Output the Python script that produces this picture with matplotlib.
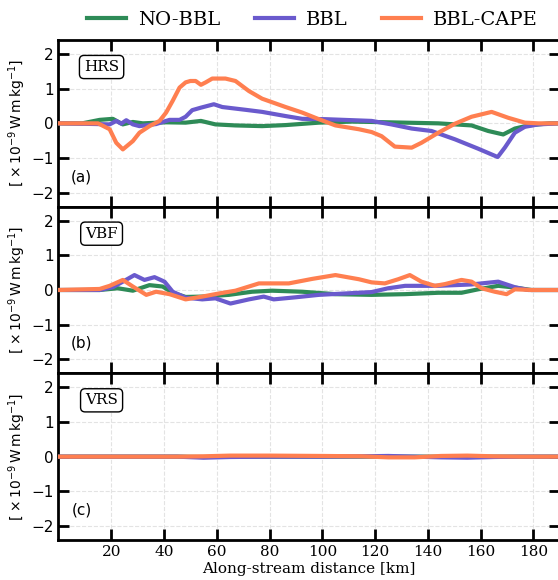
import matplotlib
matplotlib.use("Agg")
import matplotlib.pyplot as plt

# ---- data (km, 1e-9 W m kg^-1) ----
hrs_nobbl_km = [0, 9, 15.6, 20.6, 24.4, 28.2, 32, 40.8, 48.2, 54, 59.5, 67.1, 77.2, 86.1,
                98.7, 111.4, 118.7, 144, 156.6, 162.9, 168.6, 173, 178.1, 186, 190]
hrs_nobbl = [0, 0, 0.1, 0.13, -0.03, 0.04, 0, 0.03, 0.02, 0.07, -0.03, -0.06, -0.08, -0.05,
             0.02, 0.05, 0.04, 0, -0.06, -0.22, -0.32, -0.15, -0.06, 0, 0]

hrs_bbl_km = [0, 14.3, 19.4, 21.9, 23.8, 25.7, 28.2, 30.7, 37, 42.1, 45.9, 48.2, 50.7, 53.9,
              58.9, 62.1, 70.9, 77.2, 86.1, 92.4, 101.2, 118.7, 126.2, 133.9, 141.4, 150.3,
              159.1, 166.5, 169.2, 173, 176.8, 181.9, 190]
hrs_bbl = [0, -0.02, -0.03, 0.07, -0.01, 0.09, -0.03, -0.08, -0.02, 0.1, 0.1, 0.19, 0.38, 0.45,
           0.55, 0.47, 0.39, 0.33, 0.21, 0.13, 0.12, 0.07, -0.03, -0.15, -0.22, -0.46,
           -0.73, -0.97, -0.7, -0.27, -0.1, -0.03, 0]

hrs_cape_km = [0, 15, 19.4, 21.9, 24.4, 28.2, 30.7, 34.5, 38.3, 40.8, 43.3, 45.9, 48.2, 50, 52,
               54, 55.8, 58.3, 63.3, 67.1, 72.2, 77.2, 86.1, 92.4, 98.7, 105, 113.9, 118.7,
               122.5, 127.5, 133.9, 137.6, 144, 150.3, 156.6, 164.2, 170.5, 176.8, 182, 190]
hrs_cape = [0, 0, -0.17, -0.56, -0.75, -0.51, -0.27, -0.08, 0.07, 0.31, 0.65, 1.03, 1.18, 1.22,
            1.22, 1.11, 1.18, 1.29, 1.29, 1.22, 0.93, 0.71, 0.47, 0.31, 0.12, -0.06, -0.17,
            -0.25, -0.37, -0.67, -0.70, -0.56, -0.27, -0.01, 0.19, 0.33, 0.16, 0.02, 0, 0]

vbf_nobbl_km = [0, 15.6, 22.5, 28.2, 34.5, 39.5, 43.3, 48.2, 54.5, 64.6, 73.4, 81, 92.4, 105,
                118.7, 131.4, 144, 152.8, 159.1, 166.7, 173, 179.3, 190]
vbf_nobbl = [0, 0, 0.05, -0.02, 0.14, 0.1, -0.08, -0.2, -0.19, -0.14, -0.05, -0.02, -0.05,
             -0.12, -0.14, -0.12, -0.08, -0.08, 0.02, 0.12, 0.07, 0, 0]

vbf_bbl_km = [0, 15.6, 20.6, 24.4, 28.8, 32.6, 36.4, 40.2, 43.3, 48.2, 54.5, 59.5, 65.2, 72.2,
              77.8, 81.6, 89.9, 98.7, 118.7, 125, 131.4, 144, 156.6, 166.7, 173, 178.1, 190]
vbf_bbl = [0, 0, 0.08, 0.24, 0.43, 0.29, 0.37, 0.24, -0.05, -0.22, -0.27, -0.24, -0.39, -0.27,
           -0.19, -0.27, -0.21, -0.14, -0.06, 0.05, 0.12, 0.12, 0.16, 0.24, 0.08, 0, 0]

vbf_cape_km = [0, 15.6, 19.4, 24.4, 28.2, 33.3, 37, 42.1, 48.2, 54.5, 60.8, 67.1, 76, 87.3,
               96.2, 105, 113.9, 118.7, 123.7, 128.8, 133.2, 137.6, 142.7, 146.5, 152.8,
               156.6, 160.4, 165.4, 169.9, 173, 179.3, 190]
vbf_cape = [0, 0.03, 0.12, 0.29, 0.1, -0.14, -0.05, -0.12, -0.27, -0.19, -0.1, -0.02, 0.19,
            0.19, 0.32, 0.43, 0.31, 0.22, 0.19, 0.31, 0.43, 0.24, 0.12, 0.17, 0.29, 0.24,
            0.05, -0.05, -0.12, 0.02, 0, 0]

vrs_km = [0, 45, 55, 65, 80, 100, 115, 125, 135, 145, 155, 165, 175, 190]
vrs_nobbl = [0, 0, -0.01, 0, 0, 0, 0, 0, 0, 0, 0, 0, 0, 0]
vrs_bbl = [0, 0, -0.03, -0.01, 0, 0, 0.01, 0.02, 0, -0.02, -0.03, -0.01, 0, 0]
vrs_cape = [0, 0, 0.01, 0.03, 0.03, 0.02, 0.01, -0.02, -0.02, 0.02, 0.03, 0.01, 0, 0]

panel_names = ["HRS", "VBF", "VRS"]
panel_tags = ["(a)", "(b)", "(c)"]
series_labels = ["NO-BBL", "BBL", "BBL-CAPE"]
xtick_vals = [20, 40, 60, 80, 100, 120, 140, 160, 180]
ytick_vals = [-2, -1, 0, 1, 2]

colors = ["seagreen", "slateblue", "coral"]

panels = [
    [(hrs_nobbl_km, hrs_nobbl), (hrs_bbl_km, hrs_bbl), (hrs_cape_km, hrs_cape)],
    [(vbf_nobbl_km, vbf_nobbl), (vbf_bbl_km, vbf_bbl), (vbf_cape_km, vbf_cape)],
    [(vrs_km, vrs_nobbl), (vrs_km, vrs_bbl), (vrs_km, vrs_cape)],
]

plt.rcParams['mathtext.fontset'] = 'dejavusans'

fig, axes = plt.subplots(3, 1, figsize=(5.58, 5.80), dpi=100, sharex=True)
fig.subplots_adjust(left=0.1048, right=1.003, bottom=0.069, top=0.931, hspace=0)

lines = []
for i, ax in enumerate(axes):
    for j, (xs, ys) in enumerate(panels[i]):
        ln, = ax.plot(xs, ys, color=colors[j], lw=3, label=series_labels[j], zorder=3)
        if i == 0:
            lines.append(ln)

    ax.set_xlim(0, 190)
    ax.set_ylim(-2.4, 2.4)
    ax.set_xticks(xtick_vals)
    ax.set_yticks(ytick_vals)
    ax.grid(True, ls='--', color='#e3e3e3', lw=0.8)
    ax.tick_params(direction='in', length=8, width=2, top=True, right=True,
                   labelsize=11)
    for sp in ax.spines.values():
        sp.set_linewidth(2)
    for lab in ax.get_yticklabels():
        lab.set_family('DejaVu Sans')
    for lab in ax.get_xticklabels():
        lab.set_family('DejaVu Serif')

    ax.set_ylabel(r'[ $\times\,10^{-9}\,\mathrm{W\,m\,kg^{-1}}$]', fontsize=10,
                  family='DejaVu Sans')
    ax.yaxis.set_label_coords(-0.06, 0.5)

    ax.text(0.086, 0.838, panel_names[i], transform=ax.transAxes, ha='center', va='center',
            fontsize=11, family='DejaVu Serif',
            bbox=dict(boxstyle='round,pad=0.3', fc='white', ec='black', lw=1))
    ax.text(0.046, 0.18, panel_tags[i], transform=ax.transAxes, ha='center', va='center',
            fontsize=11, family='DejaVu Sans')

axes[-1].set_xlabel('Along-stream distance [km]', fontsize=11, family='DejaVu Serif',
                    labelpad=2)

fig.legend(handles=lines, loc='center', bbox_to_anchor=(0.56, 0.966), ncol=3,
           frameon=False, prop={'family': 'DejaVu Serif', 'size': 14},
           handlelength=2.0, handletextpad=0.6, columnspacing=1.8)

fig.savefig("out.png", dpi=100)
